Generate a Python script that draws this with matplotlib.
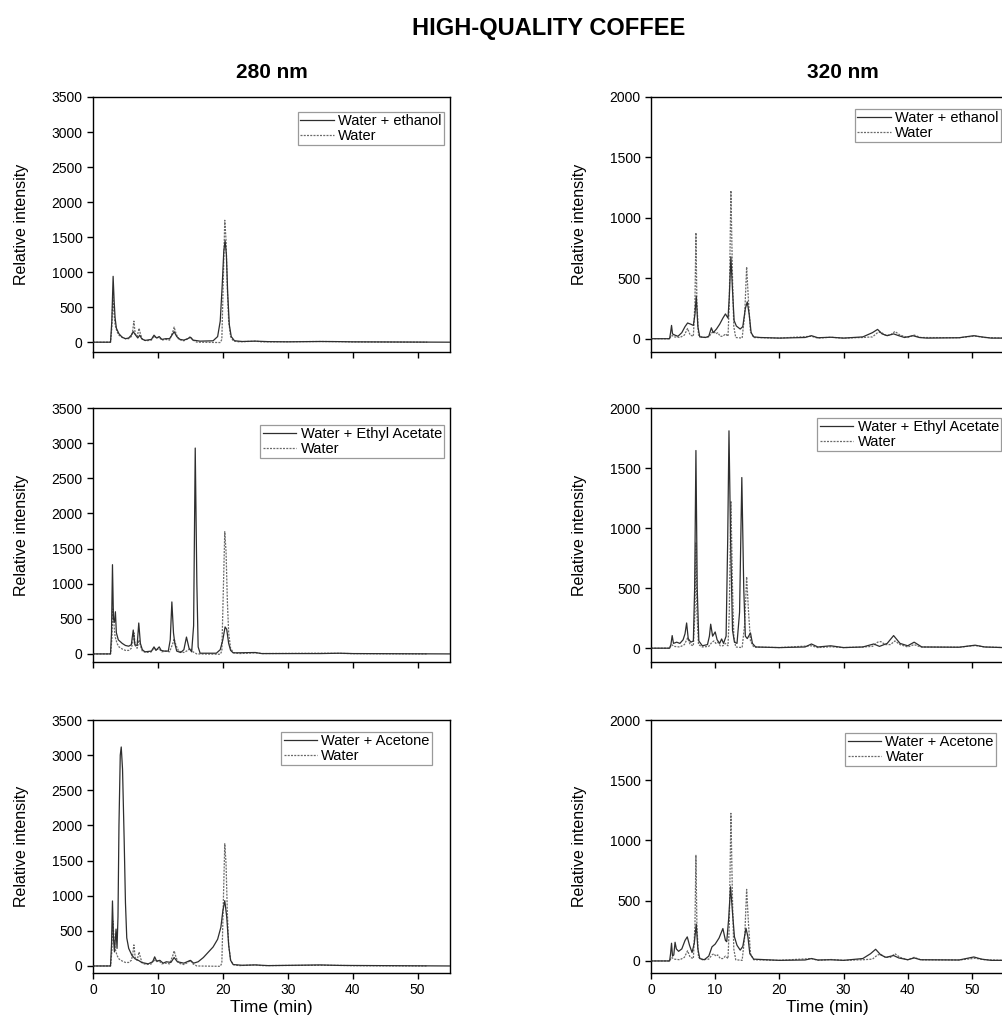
"""HPLC chromatograms of a high-quality coffee extract: 280 nm vs 320 nm, three solvents."""

import matplotlib

matplotlib.use("Agg")

import matplotlib.pyplot as plt

plt.rcParams["font.family"] = ["Liberation Sans", "DejaVu Sans"]

# --- 280 nm, water reference (dashed, same in all three left panels) ---
WATER_280_T = [0, 2.7, 2.9, 3.05, 3.2, 3.4, 3.7, 4.0, 4.5, 5.0, 5.5, 5.9, 6.1, 6.3, 6.5,
               6.8, 7.1, 7.3, 7.6, 8.2, 9.0, 9.4, 9.7, 10.2, 10.6, 11.2, 11.8, 12.3, 12.5,
               12.8, 13.2, 14.0, 14.6, 15.0, 15.4, 16.0, 19.6, 19.85, 20.05, 20.3, 20.5,
               20.7, 20.9, 21.2, 21.6, 22.5, 25, 26, 35, 38, 40, 51.5]
WATER_280_I = [0, 0, 200, 640, 450, 250, 150, 100, 70, 50, 50, 80, 150, 300, 120,
               80, 200, 120, 40, 20, 30, 90, 60, 70, 30, 40, 30, 150, 215,
               120, 40, 20, 50, 80, 30, 0, -5, 40, 800, 1740, 1450,
               750, 300, 80, 20, 5, 15, 5, 10, 8, 4, 0]

# --- 280 nm, solvent mixtures (solid) ---
ETHANOL_280_T = [0, 2.7, 2.9, 3.1, 3.25, 3.4, 3.6, 4.0, 4.5, 5.0, 5.5, 5.9, 6.2, 6.5, 6.9,
                 7.2, 7.5, 8.0, 9.0, 9.4, 9.8, 10.2, 10.6, 11.2, 11.8, 12.3, 12.5, 12.9,
                 13.4, 14.0, 14.6, 15.0, 15.4, 16.5, 18.5, 19.2, 19.6, 19.9, 20.15, 20.35,
                 20.55, 20.75, 21.0, 21.3, 21.8, 23, 25, 27, 30, 35, 38, 40, 55]
ETHANOL_280_I = [0, 0, 300, 940, 600, 350, 200, 120, 70, 50, 60, 100, 150, 110, 60,
                 100, 50, 25, 40, 100, 60, 80, 40, 50, 50, 120, 150, 80,
                 40, 30, 50, 70, 30, 15, 20, 80, 300, 800, 1300, 1450,
                 1250, 700, 250, 80, 20, 10, 15, 8, 5, 10, 8, 5, 0]

ETHYL_ACETATE_280_T = [0, 2.7, 2.85, 3.0, 3.15, 3.3, 3.45, 3.6, 3.9, 4.5, 5.0, 5.5, 5.9, 6.2,
                       6.45, 6.8, 7.05, 7.3, 7.6, 8.0, 9.0, 9.4, 9.7, 10.2, 10.5, 11.0, 11.6,
                       11.9, 12.15, 12.4, 12.6, 12.9, 13.5, 14.0, 14.4, 14.8, 15.2, 15.5,
                       15.75, 16.0, 16.2, 16.5, 19.0, 19.6, 20.0, 20.35, 20.6, 20.9, 21.2,
                       21.6, 25, 26, 35, 38, 40, 55]
ETHYL_ACETATE_280_I = [0, 0, 300, 1270, 500, 450, 600, 300, 200, 150, 120, 110, 130, 340,
                       130, 120, 440, 150, 60, 30, 40, 100, 50, 100, 50, 40, 40,
                       200, 740, 300, 150, 40, 20, 60, 240, 80, 30, 400,
                       2930, 1000, 100, 10, 10, 60, 200, 384, 350, 150, 50,
                       15, 20, 5, 5, 10, 5, 0]

ACETONE_280_T = [0, 2.7, 2.85, 3.0, 3.15, 3.3, 3.55, 3.7, 3.85, 4.0, 4.2, 4.35, 4.55, 4.8,
                 5.0, 5.2, 5.5, 6.0, 6.5, 7.0, 7.5, 8.5, 9.2, 9.5, 9.8, 10.3, 10.8, 11.3,
                 12.0, 12.5, 13.0, 14.0, 15.0, 15.5, 16.2, 17.0, 17.8, 18.5, 19.2, 19.7,
                 20.0, 20.3, 20.6, 20.9, 21.2, 21.6, 23, 25, 27, 35, 38, 55]
ACETONE_280_I = [0, 0, 300, 925, 400, 200, 525, 250, 700, 2000, 3000, 3116, 2800, 1800,
                 900, 400, 250, 150, 100, 80, 50, 30, 60, 130, 70, 80, 40, 60,
                 50, 120, 60, 40, 80, 40, 60, 120, 200, 270, 380, 550,
                 780, 930, 700, 300, 80, 20, 10, 15, 5, 15, 8, 0]

# --- 320 nm, water reference (dashed, same in all three right panels) ---
WATER_320_T = [0, 2.9, 3.2, 3.6, 4.5, 5.2, 5.7, 6.1, 6.6, 6.85, 7.0, 7.15, 7.4, 8.0, 9.0,
               9.5, 9.8, 10.1, 10.4, 10.8, 11.2, 11.6, 12.0, 12.2, 12.45, 12.7, 12.9, 13.2,
               14.2, 14.6, 14.9, 15.2, 15.5, 16, 20, 25, 26, 28, 30, 33, 34.5, 35.3, 35.8,
               36.5, 37.3, 38.0, 38.8, 40, 41, 42, 48, 50.5, 52, 55]
WATER_320_I = [0, 0, 30, 15, 10, 30, 85, 30, 20, 300, 877, 300, 30, 10, 15,
               50, 60, 40, 50, 20, 20, 40, 20, 300, 1225, 500, 100, 10,
               5, 200, 594, 300, 60, 10, 5, 20, 5, 12, 5, 10, 15, 50, 55,
               30, 30, 60, 30, 10, 30, 10, 8, 22, 10, 5]

# --- 320 nm, solvent mixtures (solid) ---
ETHANOL_320_T = [0, 2.9, 3.05, 3.2, 3.35, 3.7, 4.2, 4.8, 5.3, 5.7, 6.2, 6.6, 6.85, 7.05, 7.3,
                 7.6, 8.5, 9.0, 9.4, 9.7, 10.2, 10.7, 11.2, 11.6, 12.0, 12.2, 12.45, 12.7,
                 12.95, 13.3, 13.9, 14.3, 14.7, 15.0, 15.3, 15.6, 16.0, 17, 20, 24, 25, 26,
                 28, 30, 33, 34.5, 35.3, 36.0, 36.8, 37.8, 38.6, 39.5, 40.8, 41.8, 43, 48,
                 50.3, 51.5, 53, 55]
ETHANOL_320_I = [0, 0, 50, 110, 40, 30, 20, 50, 100, 130, 120, 110, 200, 352, 100,
                 15, 10, 20, 90, 50, 80, 120, 170, 205, 170, 350, 677, 400,
                 150, 105, 80, 100, 250, 305, 200, 50, 15, 10, 5, 10, 25, 8,
                 12, 5, 15, 50, 77, 40, 25, 40, 25, 10, 25, 10, 5, 8,
                 25, 15, 5, 5]

ETHYL_ACETATE_320_T = [0, 2.9, 3.1, 3.3, 3.5, 4.0, 4.5, 5.0, 5.3, 5.55, 5.8, 6.2, 6.6, 6.8,
                       7.0, 7.2, 7.45, 8.0, 8.8, 9.1, 9.3, 9.6, 10.0, 10.3, 10.7, 11.0, 11.3,
                       11.7, 11.95, 12.15, 12.4, 12.7, 13.0, 13.4, 13.8, 14.15, 14.45, 14.7,
                       15.0, 15.5, 15.8, 16.3, 20, 24, 25, 26, 28, 30, 33, 34.7, 35.6, 36.8,
                       37.8, 38.8, 40.0, 41, 42.2, 48, 50.5, 52, 55]
ETHYL_ACETATE_320_I = [0, 0, 30, 105, 40, 50, 40, 70, 120, 210, 80, 50, 60, 500,
                       1646, 500, 60, 20, 30, 100, 200, 100, 135, 70, 40, 77, 40,
                       100, 900, 1810, 900, 150, 50, 40, 300, 1421, 500, 100,
                       80, 127, 40, 10, 5, 10, 35, 10, 20, 5, 10, 35, 15, 40,
                       105, 40, 20, 50, 10, 8, 25, 10, 5]

ACETONE_320_T = [0, 2.9, 3.05, 3.2, 3.35, 3.55, 3.75, 3.95, 4.3, 4.8, 5.3, 5.65, 6.0, 6.4,
                 6.75, 7.05, 7.3, 7.6, 8.3, 9.0, 9.5, 10.0, 10.6, 11.2, 11.6, 11.8, 12.1,
                 12.4, 12.7, 13.0, 13.4, 13.9, 14.3, 14.8, 15.1, 15.4, 16, 20, 24, 25, 26,
                 28, 30, 33, 34.2, 35.0, 35.8, 36.6, 37.8, 38.6, 40, 41, 42, 48, 50.3,
                 51.5, 53, 55]
ACETONE_320_I = [0, 0, 60, 147, 40, 50, 155, 100, 80, 100, 170, 200, 130, 70,
                 150, 305, 100, 20, 10, 40, 117, 140, 190, 269, 170, 160, 350,
                 616, 400, 200, 130, 90, 120, 271, 200, 60, 15, 5, 8, 20, 8,
                 10, 5, 20, 60, 97, 50, 30, 45, 25, 10, 25, 10, 8, 33,
                 15, 5, 5]

SOLVENT_LABELS = ["Water + ethanol", "Water + Ethyl Acetate", "Water + Acetone"]
WAVELENGTHS = ["280 nm", "320 nm"]
YTICKS_280 = [0, 500, 1000, 1500, 2000, 2500, 3000, 3500]
YTICKS_320 = [0, 500, 1000, 1500, 2000]
XTICKS = [0, 10, 20, 30, 40, 50]

SOLID_COLOR = "#2e2e2e"
DASH_COLOR = "#6a6a6a"

# axes boxes in figure pixels for a 1003 x 1023 canvas; right column runs off the edge
W, H = 1003, 1023
COL_X = [(93, 450), (651, 1004)]
ROW_Y = [(97, 352), (408, 662), (720, 973)]
YMIN = [[-140, -110], [-115, -115], [-100, -100]]
LEGEND_ANCHOR = [[(444, 112), (1001, 109)],
                 [(444, 425), (1001, 418)],
                 [(432, 732), (996, 733)]]


def draw_panel(ax, t_s, i_s, t_w, i_w, label, yticks, ymin, show_x, anchor_px, box):
    ax.plot(t_w, i_w, color=DASH_COLOR, lw=0.9, ls=(0, (1.6, 1.0)), label="Water", zorder=2)
    ax.plot(t_s, i_s, color=SOLID_COLOR, lw=0.9, label=label, zorder=3)
    ax.set_xlim(0, 55)
    ax.set_ylim(ymin, yticks[-1])
    ax.set_xticks(XTICKS)
    ax.set_yticks(yticks)
    ax.tick_params(direction="out", length=4, width=1, labelsize=10)
    if not show_x:
        ax.tick_params(labelbottom=False)
    for sp in ax.spines.values():
        sp.set_linewidth(1.0)
    ax.set_ylabel("Relative intensity", fontsize=11.5)
    ax.yaxis.set_label_coords(-0.18, 0.5)
    if show_x:
        ax.set_xlabel("Time (min)", fontsize=12.5)
        ax.xaxis.set_label_coords(0.5, -0.105)

    # legend: solid entry first, dashed second
    handles, labels = ax.get_legend_handles_labels()
    x0, x1 = box[0]
    y0, y1 = box[1]
    ax_x = (anchor_px[0] - x0) / (x1 - x0)
    ax_y = (y1 - anchor_px[1]) / (y1 - y0)
    leg = ax.legend(handles[::-1], labels[::-1], loc="upper right",
                    bbox_to_anchor=(ax_x, ax_y), borderaxespad=0,
                    fontsize=10.5, handlelength=2.3, handletextpad=0.3,
                    labelspacing=0.05, borderpad=0.15, fancybox=False,
                    framealpha=1, edgecolor="#9a9a9a")
    leg.get_frame().set_linewidth(0.9)


def main():
    fig = plt.figure(figsize=(W / 100, H / 100), dpi=100)

    solids = [
        [(ETHANOL_280_T, ETHANOL_280_I), (ETHANOL_320_T, ETHANOL_320_I)],
        [(ETHYL_ACETATE_280_T, ETHYL_ACETATE_280_I), (ETHYL_ACETATE_320_T, ETHYL_ACETATE_320_I)],
        [(ACETONE_280_T, ACETONE_280_I), (ACETONE_320_T, ACETONE_320_I)],
    ]
    waters = [(WATER_280_T, WATER_280_I), (WATER_320_T, WATER_320_I)]
    yticks = [YTICKS_280, YTICKS_320]

    for r in range(3):
        for c in range(2):
            x0, x1 = COL_X[c]
            y0, y1 = ROW_Y[r]
            ax = fig.add_axes([x0 / W, 1 - y1 / H, (x1 - x0) / W, (y1 - y0) / H])
            t_s, i_s = solids[r][c]
            t_w, i_w = waters[c]
            draw_panel(ax, t_s, i_s, t_w, i_w, SOLVENT_LABELS[r], yticks[c],
                       YMIN[r][c], r == 2, LEGEND_ANCHOR[r][c], (COL_X[c], ROW_Y[r]))

    fig.text(549 / W, 1 - 28 / H, "HIGH-QUALITY COFFEE", ha="center", va="center",
             fontsize=17, fontweight="bold")
    fig.text(272 / W, 1 - 72 / H, WAVELENGTHS[0], ha="center", va="center",
             fontsize=15, fontweight="bold")
    fig.text(843 / W, 1 - 72 / H, WAVELENGTHS[1], ha="center", va="center",
             fontsize=15, fontweight="bold")

    fig.savefig("out.png", dpi=100)
    plt.close(fig)


if __name__ == "__main__":
    main()
